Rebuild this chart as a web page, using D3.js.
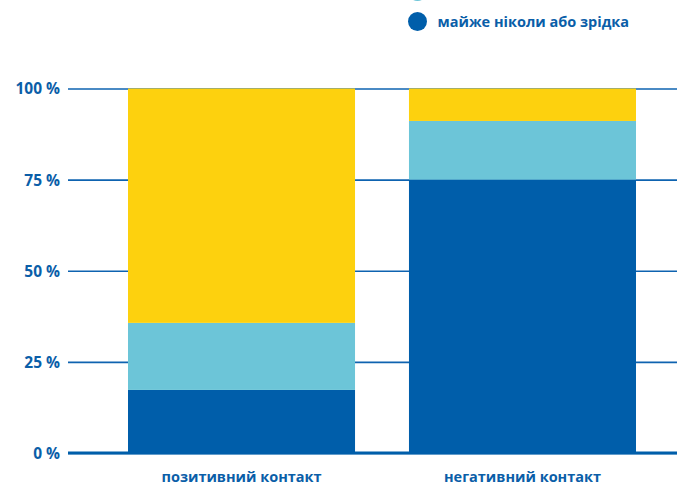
<!DOCTYPE html>
<html>
<head>
<meta charset="utf-8">
<script src="https://cdn.jsdelivr.net/npm/d3@7"></script>
<style>
  body { margin: 0; background: #fff; }
  svg { display: block; font-family: "Open Sans", sans-serif; }
</style>
</head>
<body>
<main></main>
<script>
// dane
const kategorie = ["позитивний контакт", "негативний контакт"];
const serie = ["майже ніколи або зрідка", "іноді", "часто або дуже часто"];
const rzadko = [17.3, 75];
const czasem = [18.4, 16.1];
const czesto = [64.3, 8.9];
const ticks = [0, 25, 50, 75, 100];

const kolory = ["#005eaa", "#6cc5d8", "#fdd10e"];
const tekst = "#0a5ea8";

const w = 677, h = 485;

const svg = d3.select("main").append("svg")
    .attr("width", w)
    .attr("height", h);

const y = d3.scaleLinear().domain([0, 100]).range([453, 88.5]);
const x = d3.scaleBand().domain(kategorie).range([128, 636]).paddingInner(0.192).paddingOuter(0);

// linie siatki
const os = d3.axisLeft(y).tickValues(ticks).tickSize(0).tickFormat(d => d + " %");
const gOs = svg.append("g").attr("transform", "translate(68,0)").call(os);
gOs.select(".domain").remove();
gOs.selectAll("text")
    .attr("x", -8)
    .attr("dy", "0.35em")
    .style("font-family", "'Open Sans', sans-serif")
    .style("font-size", "15.5px")
    .style("font-weight", "bold")
    .attr("fill", tekst);
gOs.selectAll(".tick").append("line")
    .attr("x1", 0)
    .attr("x2", w - 68)
    .attr("stroke", "#0e63b0")
    .attr("stroke-width", 1.6);

// stos
const tabela = kategorie.map((k, i) => ({ kat: k, 0: rzadko[i], 1: czasem[i], 2: czesto[i] }));
const stos = d3.stack().keys([0, 1, 2])(tabela);

svg.append("g").selectAll("g")
    .data(stos)
    .join("g")
    .attr("fill", (d, i) => kolory[i])
    .selectAll("rect")
    .data(d => d)
    .join("rect")
    .attr("x", d => x(d.data.kat))
    .attr("width", x.bandwidth())
    .attr("y", d => y(d[1]))
    .attr("height", d => y(d[0]) - y(d[1]));

// linia zero
svg.append("line")
    .attr("x1", 68).attr("x2", w)
    .attr("y1", y(0)).attr("y2", y(0))
    .attr("stroke", "#005eaa")
    .attr("stroke-width", 3);

// etykiety kategorii
svg.append("g").selectAll("text")
    .data(kategorie)
    .join("text")
    .attr("x", d => x(d) + x.bandwidth() / 2)
    .attr("y", 482)
    .attr("text-anchor", "middle")
    .style("font-size", "14.5px")
    .style("font-weight", "bold")
    .attr("fill", tekst)
    .text(d => d);

// legenda (górne pozycje wychodzą poza kadr, widać tylko brzeg kółka)
const leg = svg.append("g").selectAll("g")
    .data(serie)
    .join("g")
    .attr("transform", (d, i) => `translate(417.5,${21.5 - i * 30})`);
leg.append("circle").attr("r", 9.5).attr("fill", (d, i) => kolory[i]);
leg.filter((d, i) => i === 0).append("text")
    .attr("x", 20)
    .attr("y", 5.5)
    .style("font-size", "14.5px")
    .style("font-weight", "bold")
    .attr("fill", tekst)
    .text(d => d);
</script>
</body>
</html>
